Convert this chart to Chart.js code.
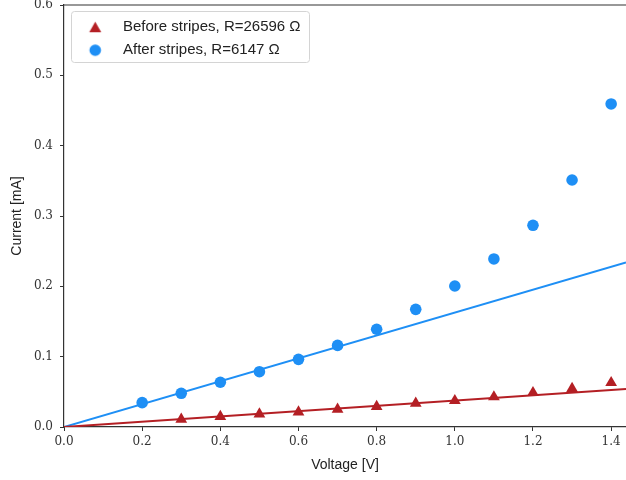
<!DOCTYPE html>
<html>
<head>
<meta charset="utf-8">
<script src="https://cdn.jsdelivr.net/npm/chart.js@4"></script>
<style>
  html, body { margin: 0; padding: 0; background: #fff; }
  #wrap { width: 626px; height: 480px; }
</style>
</head>
<body>
<div id="wrap"><canvas id="ivChart" width="626" height="480"></canvas></div>
<script>
// Measured I-V data (voltage in V, current in mA)
const beforeVoltage = [0.3, 0.4, 0.5, 0.6, 0.7, 0.8, 0.9, 1.0, 1.1, 1.2, 1.3, 1.4];
const beforeCurrent = [0.011, 0.0147, 0.0185, 0.0213, 0.0251, 0.0289, 0.0337, 0.0374, 0.0427, 0.0488, 0.0545, 0.063];
const afterVoltage = [0.2, 0.3, 0.4, 0.5, 0.6, 0.7, 0.8, 0.9, 1.0, 1.1, 1.2, 1.3, 1.4];
const afterCurrent = [0.0346, 0.0479, 0.0636, 0.0786, 0.0962, 0.116, 0.139, 0.1673, 0.2005, 0.2389, 0.2868, 0.3512, 0.4593];

// Linear fits (end points)
const fitVoltage = [0, 1.438];
const beforeFitCurrent = [0, 0.0541];
const afterFitCurrent = [0, 0.2339];

const beforeLabel = 'Before stripes, R=26596 \u03A9';
const afterLabel = 'After stripes, R=6147 \u03A9';

const red = '#b41f24';
const blue = '#1e8ff5';

const toPoints = (xs, ys) => xs.map((x, i) => ({ x: x, y: ys[i] }));

// small marker images for the legend (keeps the gap between marker and text)
function markerImage(kind, color) {
    const c = document.createElement('canvas');
    c.width = 18; c.height = 14;
    const g = c.getContext('2d');
    g.fillStyle = color;
    g.beginPath();
    if (kind === 'triangle') {
        g.moveTo(10.5, 1.5);
        g.lineTo(16.5, 12);
        g.lineTo(4.5, 12);
        g.closePath();
    } else {
        g.arc(10.5, 7, 5.8, 0, Math.PI * 2);
    }
    g.fill();
    return c;
}
const legendMarkers = [markerImage('triangle', red), markerImage('circle', blue)];

// legend frame + top spine
const framePlugin = {
    id: 'frame',
    beforeDraw(chart) {
        const boxes = chart.legend && chart.legend.legendHitBoxes;
        if (!boxes || !boxes.length) return;
        const ctx = chart.ctx;
        let t = Infinity, r = -Infinity, b = -Infinity;
        boxes.forEach(h => {
            t = Math.min(t, h.top);
            r = Math.max(r, h.left + h.width); b = Math.max(b, h.top + h.height);
        });
        const l = chart.chartArea.left + 7;
        t -= 9; r += 8; b += 4;
        ctx.save();
        ctx.fillStyle = 'rgba(255,255,255,0.8)';
        ctx.strokeStyle = '#d4d4d4';
        ctx.lineWidth = 1;
        ctx.beginPath();
        ctx.roundRect(Math.round(l) + 0.5, Math.round(t) + 0.5, Math.round(r - l), Math.round(b - t), 3);
        ctx.fill();
        ctx.stroke();
        ctx.restore();
    },
    afterDraw(chart) {
        const a = chart.chartArea;
        const ctx = chart.ctx;
        ctx.save();
        ctx.strokeStyle = '#333';
        ctx.lineWidth = 1.2;
        ctx.beginPath();
        ctx.moveTo(a.left, a.top);
        ctx.lineTo(a.right, a.top);
        ctx.stroke();
        ctx.restore();
    }
};

const tickFont = { family: '"DejaVu Serif", serif', size: 12 };
const labelFont = { family: '"Liberation Sans", Arial, sans-serif', size: 14 };
const legendFont = { family: '"Liberation Sans", Arial, sans-serif', size: 15 };

const ctx = document.getElementById('ivChart').getContext('2d');
const ivChart = new Chart(ctx, {
    type: 'scatter',
    data: {
        datasets: [{
            label: beforeLabel,
            data: toPoints(beforeVoltage, beforeCurrent),
            pointStyle: 'triangle',
            pointRadius: 6.8,
            pointBorderWidth: 0,
            backgroundColor: red,
            borderColor: red,
            order: 0
        }, {
            label: afterLabel,
            data: toPoints(afterVoltage, afterCurrent),
            pointStyle: 'circle',
            pointRadius: 5.8,
            pointBorderWidth: 0,
            backgroundColor: blue,
            borderColor: blue,
            order: 0
        }, {
            label: 'before fit',
            data: toPoints(fitVoltage, beforeFitCurrent),
            showLine: true,
            pointRadius: 0,
            borderColor: red,
            borderWidth: 2,
            order: 1
        }, {
            label: 'after fit',
            data: toPoints(fitVoltage, afterFitCurrent),
            showLine: true,
            pointRadius: 0,
            borderColor: blue,
            borderWidth: 2,
            order: 1
        }]
    },
    options: {
        responsive: false,
        animation: false,
        layout: { autoPadding: false, padding: { top: 5, right: 0, bottom: 0, left: 0 } },
        plugins: {
            tooltip: { enabled: false },
            legend: {
                position: 'chartArea',
                align: 'start',
                title: { display: true, text: ' ', font: { size: 1 }, padding: { top: 10.5, bottom: 0 } },
                labels: {
                    usePointStyle: true,
                    pointStyleWidth: 43.5,
                    padding: 8,
                    color: '#222',
                    font: legendFont,
                    generateLabels(chart) {
                        const items = Chart.defaults.plugins.legend.labels.generateLabels(chart)
                            .filter(it => it.datasetIndex < 2);
                        items.forEach(it => { it.pointStyle = legendMarkers[it.datasetIndex]; });
                        return items;
                    }
                }
            }
        },
        scales: {
            x: {
                type: 'linear',
                min: 0,
                max: 1.438,
                afterFit(scale) {
                    scale.height = 53;
                    scale.paddingLeft = 0;
                    scale.paddingRight = 0;
                },
                border: { display: true, color: '#333', width: 1.2 },
                grid: { drawOnChartArea: false, drawTicks: true, tickLength: 4, color: '#333', tickWidth: 1 },
                ticks: {
                    stepSize: 0.2,
                    includeBounds: false,
                    maxRotation: 0,
                    padding: 4,
                    color: '#333',
                    font: tickFont,
                    callback: v => v.toFixed(1)
                },
                title: {
                    display: true,
                    text: 'Voltage [V]',
                    color: '#222',
                    font: labelFont,
                    padding: { top: 0, bottom: 6 }
                }
            },
            y: {
                type: 'linear',
                min: 0,
                max: 0.6,
                afterFit(scale) {
                    scale.width = 64;
                    scale.paddingTop = 0;
                    scale.paddingBottom = 0;
                },
                border: { display: true, color: '#333', width: 1.2 },
                grid: { drawOnChartArea: false, drawTicks: true, tickLength: 4, color: '#333', tickWidth: 1 },
                ticks: {
                    stepSize: 0.1,
                    padding: 7,
                    color: '#333',
                    font: tickFont,
                    callback: v => v.toFixed(1)
                },
                title: {
                    display: true,
                    text: 'Current [mA]',
                    color: '#222',
                    font: labelFont,
                    padding: { top: 9, bottom: 0 }
                }
            }
        }
    },
    plugins: [framePlugin]
});
</script>
</body>
</html>
